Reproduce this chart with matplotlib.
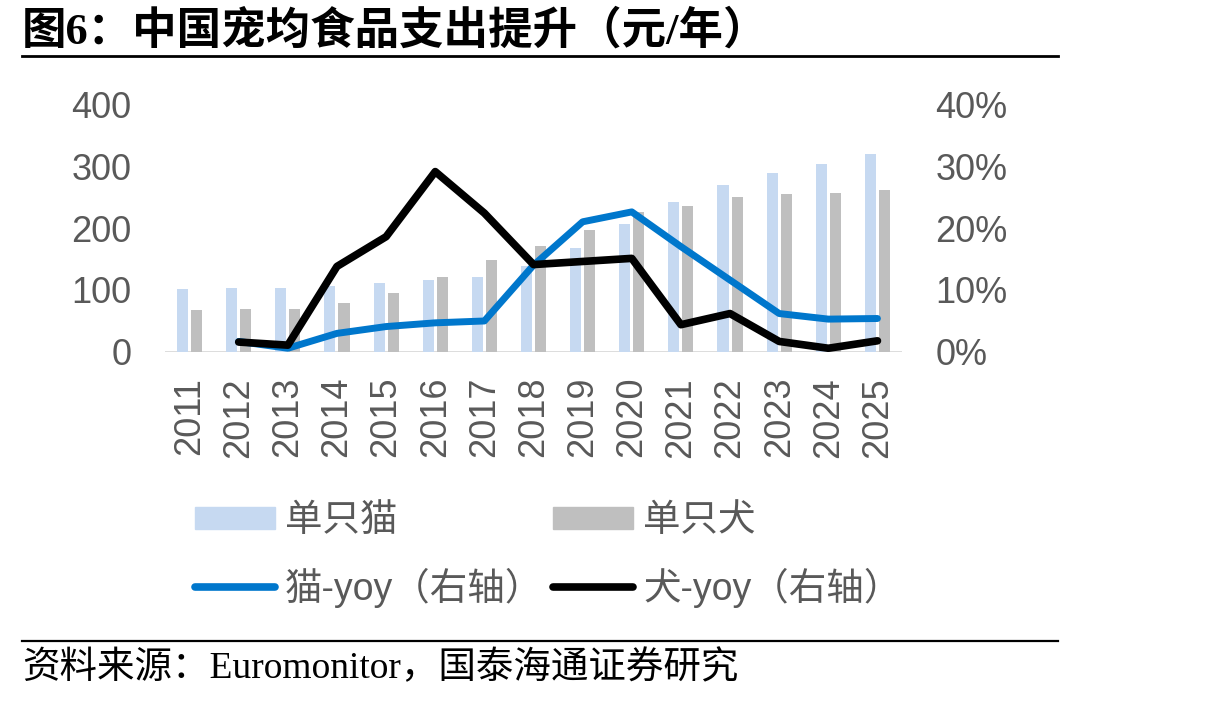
import matplotlib
matplotlib.use("Agg")
import matplotlib.pyplot as plt
from matplotlib.patches import Patch
from matplotlib.lines import Line2D

years = ["2011", "2012", "2013", "2014", "2015", "2016", "2017", "2018",
         "2019", "2020", "2021", "2022", "2023", "2024", "2025"]
cat_spend = [101, 103, 103, 106, 111, 116, 121, 139, 168, 206, 242, 270, 288, 303, 320]
dog_spend = [67, 69, 69, 79, 95, 121, 149, 171, 196, 226, 235, 250, 255, 257, 262]
# yoy in %, none for 2011
cat_yoy = [None, 1.7, 0.6, 3.0, 4.1, 4.7, 5.0, 14.0, 21.0, 22.6, 17.0, 11.6, 6.2, 5.3, 5.4]
dog_yoy = [None, 1.6, 1.1, 13.8, 18.6, 29.1, 22.4, 14.1, 14.6, 15.1, 4.4, 6.2, 1.7, 0.6, 1.8]

left_ticks = [0, 100, 200, 300, 400]
right_ticks = [0, 10, 20, 30, 40]

title = "图6：中国宠均食品支出提升（元/年）"
source = "资料来源：Euromonitor，国泰海通证券研究"

CAT_BAR = "#C6D9F1"
DOG_BAR = "#BFBFBF"
CAT_LINE = "#0077CC"
DOG_LINE = "#000000"
TXT = "#595959"

MIX_SANS = ["Liberation Sans", "Noto Sans CJK SC"]
MIX_SERIF = ["Liberation Serif", "Noto Sans CJK SC"]

fig = plt.figure(figsize=(12.15, 7.01), dpi=100)
ax = fig.add_axes([0.1358, 0.4979, 0.6066, 0.3537])
ax2 = ax.twinx()

x = list(range(len(years)))
w = 0.225
off = 0.143
ax.bar([i - off for i in x], cat_spend, width=w, color=CAT_BAR, zorder=2)
ax.bar([i + off for i in x], dog_spend, width=w, color=DOG_BAR, zorder=2)

ax.set_xlim(-0.5, len(years) - 0.5)
ax.set_ylim(0, 400)
ax.set_yticks(left_ticks)
ax.set_yticklabels([str(t) for t in left_ticks])
ax.set_xticks(x)
ax.set_xticklabels(years, rotation=90)

yx = [i for i, v in enumerate(cat_yoy) if v is not None]
ax2.plot(yx, [cat_yoy[i] for i in yx], color=CAT_LINE, lw=5,
         solid_capstyle="round", solid_joinstyle="round", zorder=3)
yx = [i for i, v in enumerate(dog_yoy) if v is not None]
ax2.plot(yx, [dog_yoy[i] for i in yx], color=DOG_LINE, lw=5.5,
         solid_capstyle="round", solid_joinstyle="round", zorder=4)
ax2.set_ylim(0, 40)
ax2.set_yticks(right_ticks)
ax2.set_yticklabels([f"{t}%" for t in right_ticks])

for a in (ax, ax2):
    for s in ["top", "left", "right", "bottom"]:
        a.spines[s].set_visible(False)
    a.tick_params(length=0, labelsize=26, labelcolor=TXT)
    for lab in a.get_yticklabels() + a.get_xticklabels():
        lab.set_family("Liberation Sans")
ax.tick_params(axis="y", pad=24)
ax2.tick_params(axis="y", pad=24)
ax.tick_params(axis="x", pad=18)
ax.axhline(0, color="#D9D9D9", lw=2, zorder=1)

handles = [
    Patch(color=CAT_BAR),
    Line2D([], [], color=CAT_LINE, lw=5.5, solid_capstyle="round"),
    Patch(color=DOG_BAR),
    Line2D([], [], color=DOG_LINE, lw=5.5, solid_capstyle="round"),
]
labels = ["单只猫", "猫-yoy（右轴）", "单只犬", "犬-yoy（右轴）"]
leg = fig.legend(handles, labels, ncol=2, loc="upper left",
                 bbox_to_anchor=(0.1325, 0.330), frameon=False,
                 prop={"family": MIX_SANS, "size": 27},
                 handlelength=2.13, handleheight=0.55, handletextpad=0.27,
                 columnspacing=0.28, labelspacing=0.75)
for t in leg.get_texts():
    t.set_color(TXT)

fig.text(0.018, 0.955, title, fontsize=32, fontweight="bold",
         family=MIX_SERIF, va="center", ha="left", color="black")
fig.add_artist(Line2D([0.018, 0.871], [0.920, 0.920], color="black", lw=2))
fig.add_artist(Line2D([0.018, 0.871], [0.086, 0.086], color="black", lw=1.6))
fig.text(0.018, 0.047, source, fontsize=27, family=MIX_SERIF,
         va="center", ha="left", color="black")

fig.savefig("out.png", dpi=100)
